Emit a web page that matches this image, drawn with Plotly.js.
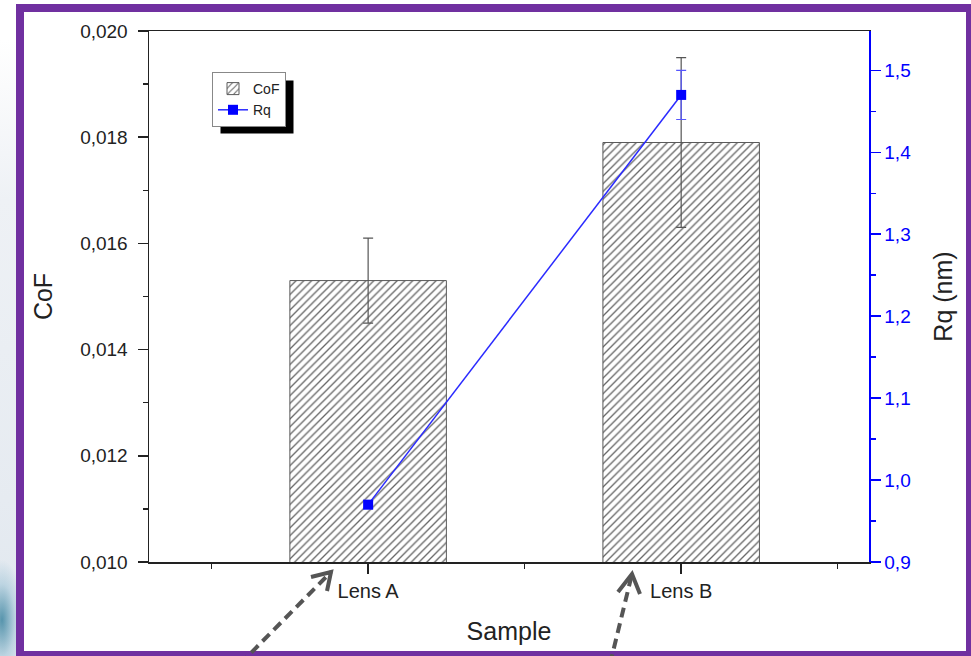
<!DOCTYPE html>
<html>
<head>
<meta charset="utf-8">
<script src="https://cdn.plot.ly/plotly-3.0.1.min.js"></script>
<style>
  html, body { margin: 0; padding: 0; background: #ffffff; }
  #wrap { position: relative; width: 971px; height: 656px; overflow: hidden;
    background:
      radial-gradient(ellipse 22px 60px at 2px 620px, rgba(40,120,150,0.75), rgba(120,175,200,0.35) 60%, rgba(255,255,255,0) 100%),
      linear-gradient(to bottom, #ffffff 0px, #ffffff 40px, #eef1f5 200px, #e6ebf1 500px, #dfe7ee 656px); }
  #frame { position: absolute; left: 16px; top: 4px; width: 958px; height: 655px;
    box-sizing: border-box; border: 8px solid #7030a0; background: #ffffff; }
  #chart { position: absolute; left: 0; top: 0; width: 971px; height: 656px; }
</style>
</head>
<body>
<div id="wrap">
  <div id="frame"></div>
  <div id="chart"></div>
</div>
<script>
// ---- data ----
const categories = ["Lens A", "Lens B"];
const cofValues = [0.0153, 0.0179];
const cofErrors = [0.0008, 0.0016];
const rqValues = [0.97, 1.47];
const rqErrors = [0.005, 0.03];
const cofTicks = [0.010, 0.012, 0.014, 0.016, 0.018, 0.020];
const rqTicks = [0.9, 1.0, 1.1, 1.2, 1.3, 1.4, 1.5];

const xIdx = categories.map((c, i) => i);

// pixel -> paper helpers for decorations
const L = 149, R = 869, T = 31, B = 562;
const px = v => (v - L) / (R - L);
const py = v => (B - v) / (B - T);

const traceCoF = {
  type: 'bar', name: 'CoF', x: xIdx, y: cofValues, width: 0.5,
  marker: { color: '#ffffff', line: { color: '#5a5a5a', width: 1 },
    pattern: { shape: '/', fgcolor: '#666666', bgcolor: '#ffffff', size: 5.5, solidity: 0.24 } },
  error_y: { type: 'data', array: cofErrors, visible: true, color: '#555555', thickness: 1.2, width: 5 },
  hoverinfo: 'skip'
};
const traceRq = {
  type: 'scatter', mode: 'lines+markers', name: 'Rq', x: xIdx, y: rqValues, yaxis: 'y2',
  line: { color: '#2a2aff', width: 1.5 },
  marker: { color: '#0000ff', symbol: 'square', size: 10 },
  error_y: { type: 'data', array: rqErrors, visible: true, color: '#5555ff', thickness: 1.2, width: 5 },
  hoverinfo: 'skip'
};

function arrow(x0, y0, x1, y1, a1x, a1y, a2x, a2y) {
  const col = '#555555';
  return [
    { type: 'line', xref: 'paper', yref: 'paper', x0: px(x0), y0: py(y0), x1: px(x1), y1: py(y1),
      line: { color: col, width: 4, dash: '10px,6px' } },
    { type: 'path', xref: 'paper', yref: 'paper',
      path: `M ${px(a1x)} ${py(a1y)} L ${px(x1)} ${py(y1)} L ${px(a2x)} ${py(a2y)}`,
      line: { color: col, width: 4 } }
  ];
}

const arrowShapes = [
  ...arrow(240, 664, 331, 572, 311, 577, 327, 591),
  ...arrow(610, 664, 632, 574, 618, 592, 640, 594)
];

const layout = {
  width: 971, height: 656,
  margin: { l: L, r: 971 - R, t: T, b: 656 - B },
  paper_bgcolor: 'rgba(0,0,0,0)', plot_bgcolor: 'rgba(0,0,0,0)',
  separators: ', ',
  font: { family: 'Liberation Sans, Arial, sans-serif', color: '#222222', size: 18 },
  showlegend: true,
  legend: { x: px(212), y: py(72), xanchor: 'left', yanchor: 'top',
    bgcolor: '#ffffff', bordercolor: '#888888', borderwidth: 1,
    font: { size: 14, color: '#222222' }, tracegroupgap: 0 },
  xaxis: {
    range: [-0.7, 1.6], tickmode: 'array', tickvals: xIdx, ticktext: categories,
    showline: true, linecolor: '#222222', linewidth: 1.5, mirror: true,
    ticks: 'outside', ticklen: 10, tickwidth: 1.5, tickcolor: '#222222',
    minor: { tickmode: 'array', tickvals: [-0.5, 0.5, 1.5], ticks: 'outside', ticklen: 5, tickwidth: 1.5, tickcolor: '#222222' },
    showgrid: false, zeroline: false,
    tickfont: { size: 20 },
    title: { text: 'Sample', font: { size: 25 }, standoff: 22 }
  },
  yaxis: {
    range: [0.010, 0.020], tickmode: 'array', tickvals: cofTicks, tickformat: '.3f',
    showline: true, linecolor: '#222222', linewidth: 1.5, mirror: false,
    ticks: 'outside', ticklen: 10, tickwidth: 1.5, tickcolor: '#222222',
    minor: { dtick: 0.001, tick0: 0.010, ticks: 'outside', ticklen: 5, tickwidth: 1.5, tickcolor: '#222222' },
    showgrid: false, zeroline: false, ticklabelstandoff: 6,
    tickfont: { size: 19 },
    title: { text: 'CoF', font: { size: 25 }, standoff: 20 }
  },
  yaxis2: {
    overlaying: 'y', side: 'right', anchor: 'x',
    range: [0.9, 1.548], tickmode: 'array', tickvals: rqTicks, tickformat: '.1f',
    tickprefix: '\u00a0',
    showline: true, linecolor: '#0000ff', linewidth: 1.5,
    ticks: 'outside', ticklen: 10, tickwidth: 1.5, tickcolor: '#0000ff',
    minor: { dtick: 0.05, tick0: 0.9, ticks: 'outside', ticklen: 5, tickwidth: 1.5, tickcolor: '#0000ff' },
    showgrid: false, zeroline: false,
    tickfont: { size: 19, color: '#0000ff' },
    title: { text: 'Rq (nm)', font: { size: 25, color: '#222222' }, standoff: 24 }
  },
  shapes: arrowShapes
};

Plotly.newPlot('chart', [traceCoF, traceRq], layout, { staticPlot: true, displayModeBar: false }).then(gd => {
  // legend drop shadow placed from the legend's rendered box
  const bg = gd.querySelector('.legend .bg');
  if (!bg) return;
  const r = bg.getBoundingClientRect();
  const c = gd.getBoundingClientRect();
  const x0 = r.left - c.left, y0 = r.top - c.top, x1 = r.right - c.left, y1 = r.bottom - c.top;
  const shadow = { type: 'rect', xref: 'paper', yref: 'paper', layer: 'above',
    x0: px(x0 + 8), x1: px(x1 + 8), y0: py(y0 + 8), y1: py(y1 + 7),
    fillcolor: '#000000', line: { width: 0 } };
  return Plotly.relayout(gd, { shapes: [shadow, ...arrowShapes] });
});
</script>
</body>
</html>
